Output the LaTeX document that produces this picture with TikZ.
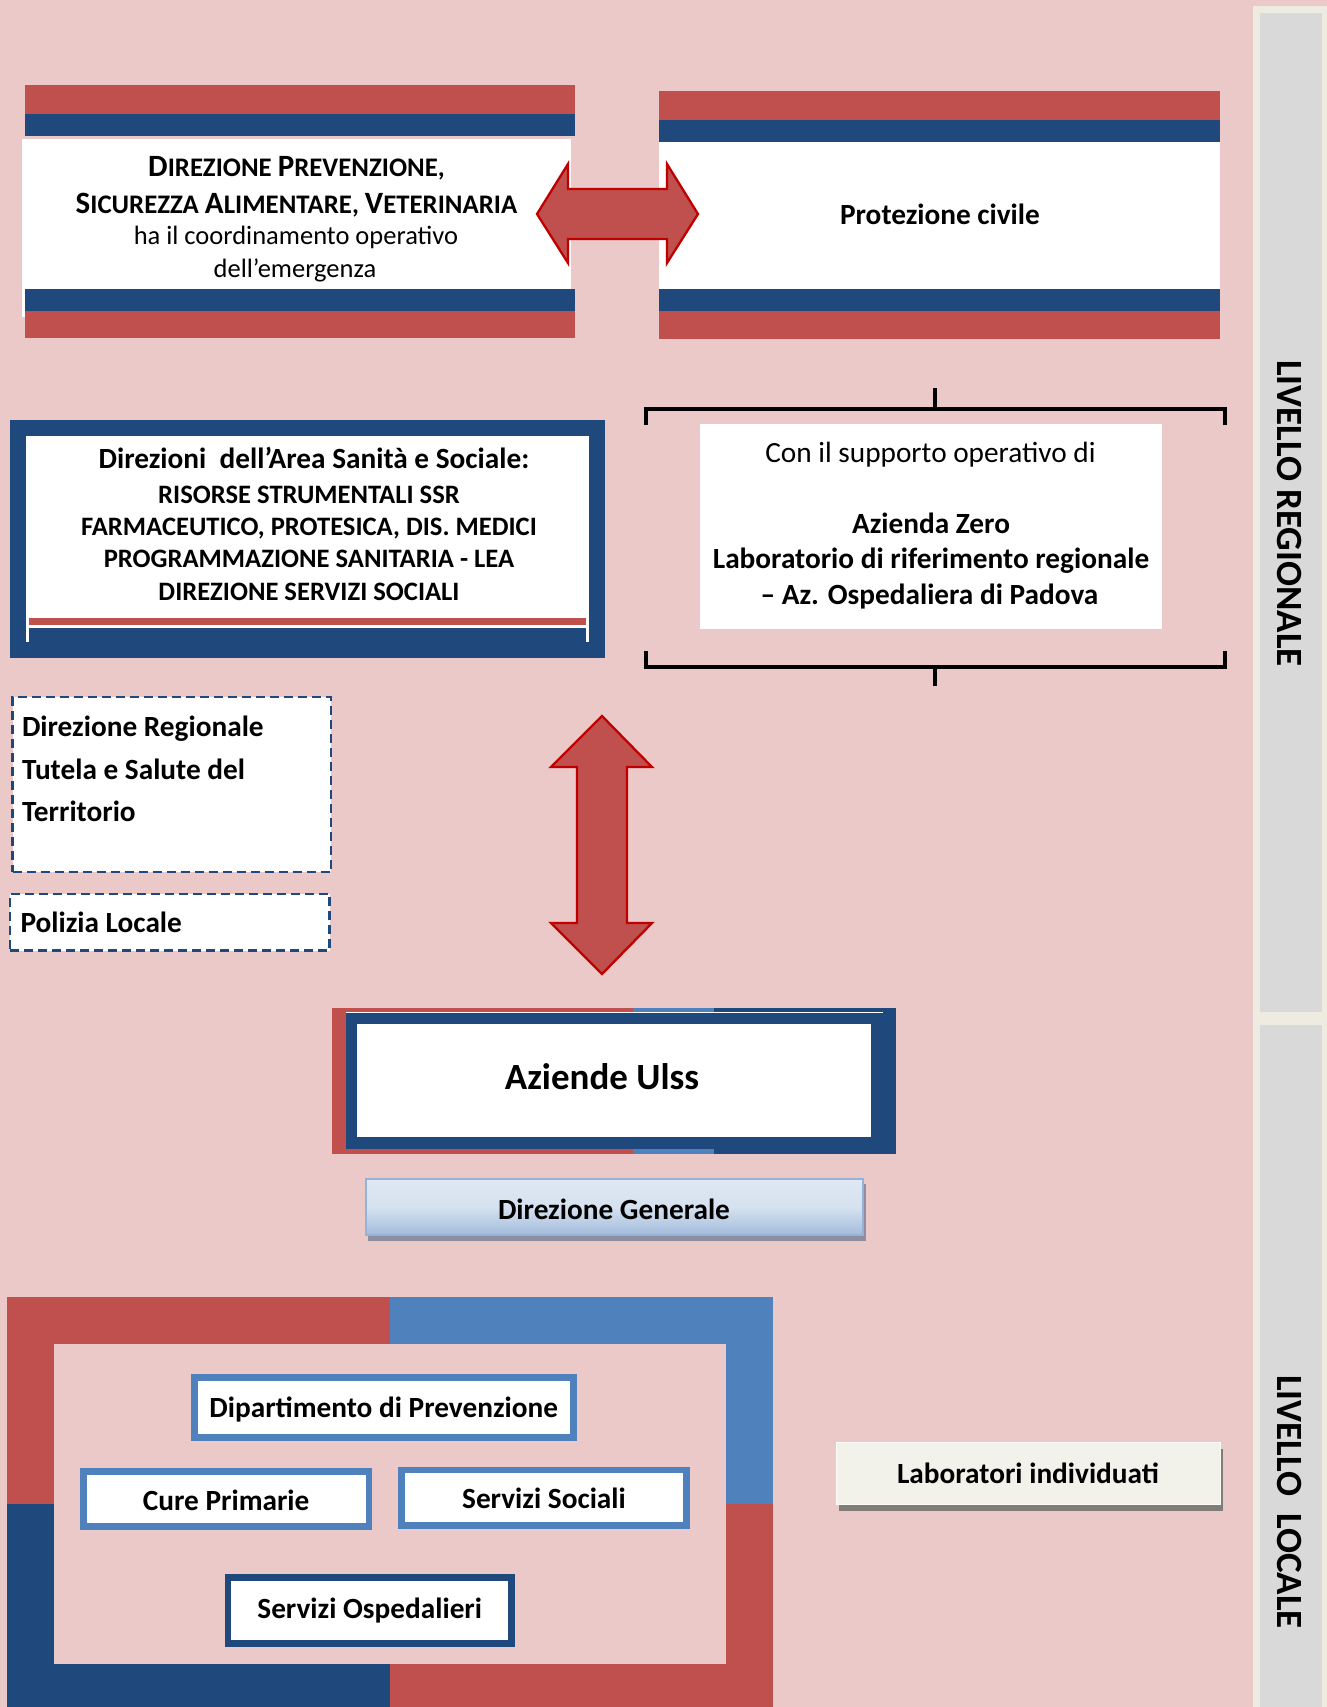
\documentclass[tikz,border=0pt]{standalone}
\usepackage{fontspec}
\setmainfont{Carlito}
\definecolor{bgpink}{HTML}{EBC9C9}
\definecolor{redc}{HTML}{C0504D}
\definecolor{dblue}{HTML}{1F497D}
\definecolor{lblue}{HTML}{4F81BD}
\definecolor{arrowred}{HTML}{C00000}
\definecolor{cream}{HTML}{EEECE1}
\definecolor{sidegray}{HTML}{D9D9D9}
\definecolor{dgtop}{HTML}{DFE8F3}
\definecolor{dgbot}{HTML}{A2BCDC}
\definecolor{dgborder}{HTML}{95B3D7}
\definecolor{dgshadow}{HTML}{8E8E9E}
\definecolor{labfill}{HTML}{F3F2EA}
\definecolor{labshadow}{HTML}{7F7D76}
\newcommand\fakesc[2]{{\fontsize{31}{31}\selectfont #1}{\fontsize{26.8}{26.8}\selectfont #2}}
\tikzset{
  every node/.style={inner sep=0pt, outer sep=0pt},
  plainbox/.style={fill=white, draw=none, anchor=north west},
  dashbox/.style={fill=white, draw=dblue, line width=2.5pt, dash pattern=on 9pt off 5pt, anchor=north west},
  framebox/.style={fill=white, draw=lblue, line width=6.7pt, text height=20pt, text depth=0pt,
    font=\fontsize{29.3}{35.8}\selectfont\bfseries},
  regtxt/.style={font=\fontsize{29.3}{35.8}\selectfont},
  boldtxt/.style={font=\fontsize{29.3}{35.8}\selectfont\bfseries},
  capstxt/.style={font=\fontsize{26.6}{32.5}\selectfont\bfseries},
  blockarrow/.style={fill=redc, draw=arrowred, line width=2.3pt, line join=miter},
  bracket/.style={draw=black, line width=4.5pt, line join=miter, line cap=butt},
  sidetxt/.style={rotate=-90, font=\fontsize{37}{37}\selectfont\bfseries}
}
\begin{document}
\begin{tikzpicture}[x=1pt,y=-1pt]
\useasboundingbox (0,0) rectangle (1327,1707);
\fill[bgpink] (0,0) rectangle (1327,1707);

% ---- side bar
\fill[cream] (1253,6.5) rectangle (1327,1707);
\fill[sidegray] (1260,13) rectangle (1322,1012);
\fill[sidegray] (1260,1025) rectangle (1322,1707);
\node[sidetxt] (lreg) at (1289.5,513.5) {LIVELLO REGIONALE};
\node[sidetxt] (lloc) at (1289.5,1502) {LIVELLO~~LOCALE};

% ---- Direzione Prevenzione box
\node[plainbox, minimum width=549pt, minimum height=178pt] (dirprev) at (22,139) {};
\fill[redc] (25,85) rectangle (575,114);
\fill[dblue] (25,114) rectangle (575,136);
\fill[dblue] (25,289) rectangle (575,310.7);
\fill[redc] (25,310.7) rectangle (575,338);
\node[anchor=base, font=\bfseries] (dp1) at (296.5,177) {\fakesc{D}{IREZIONE }\fakesc{P}{REVENZIONE,}};
\node[anchor=base, font=\bfseries] (dp2) at (296.5,213) {\fakesc{S}{ICUREZZA }\fakesc{A}{LIMENTARE, }\fakesc{V}{ETERINARIA}};
\node[anchor=base, font=\fontsize{26.5}{33}\selectfont] (dp3) at (296,244.5) {ha il coordinamento operativo};
\node[anchor=base, font=\fontsize{26.5}{33}\selectfont] (dp4) at (295,277.5) {dell’emergenza};

% ---- Protezione civile box
\node[plainbox, minimum width=561pt, minimum height=170pt] (protciv) at (659,130) {};
\fill[redc] (659,91) rectangle (1220,120);
\fill[dblue] (659,120) rectangle (1220,141.7);
\fill[dblue] (659,289) rectangle (1220,310.7);
\fill[redc] (659,310.7) rectangle (1220,338.7);
\node[anchor=base, boldtxt] (pctxt) at (940,224.5) {Protezione civile};

% ---- horizontal double block arrow
\draw[blockarrow] (537,214) -- (568,164) -- (568,189) -- (667,189) -- (667,164) -- (698,214)
  -- (667,263) -- (667,239) -- (568,239) -- (568,263) -- cycle;

% ---- Direzioni Area Sanita box
\node[anchor=north west, fill=dblue, minimum width=595pt, minimum height=238pt] (dirarea) at (10,420) {};
\fill[white] (26,436) rectangle (589,642);
\fill[redc] (29,618) rectangle (586,625);
\fill[dblue] (29,628) rectangle (586,658);
\node[anchor=base, boldtxt] (da1) at (314,468.5) {Direzioni~~dell’Area Sanità e Sociale:};
\node[anchor=base, capstxt] (da2) at (309,503) {RISORSE STRUMENTALI SSR};
\node[anchor=base, capstxt] (da3) at (309,535.5) {FARMACEUTICO, PROTESICA, DIS. MEDICI};
\node[anchor=base, capstxt] (da4) at (309,567.5) {PROGRAMMAZIONE SANITARIA - LEA};
\node[anchor=base, capstxt] (da5) at (309,600.3) {DIREZIONE SERVIZI SOCIALI};

% ---- supporto operativo with brackets
\node[plainbox, minimum width=462pt, minimum height=204.7pt] (supp) at (700,424) {};
\draw[bracket] (646,425) -- (646,409) -- (1225,409) -- (1225,425);
\draw[bracket] (935,409) -- (935,388);
\draw[bracket] (646,651) -- (646,667) -- (1225,667) -- (1225,651);
\draw[bracket] (935,667) -- (935,686);
\node[anchor=base, regtxt] (su1) at (930.5,462.7) {Con il supporto operativo di};
\node[anchor=base, boldtxt] (su2) at (931,533.2) {Azienda Zero};
\node[anchor=base, boldtxt] (su3) at (931,568.8) {Laboratorio di riferimento regionale};
\node[anchor=base, boldtxt] (su4) at (929.5,604.8) {-- Az. Ospedaliera di Padova};

% ---- dashed boxes
\node[dashbox, minimum width=318.5pt, minimum height=175pt] (dirreg) at (12.5,697) {};
\node[anchor=base west, boldtxt] (dr1) at (22,736.5) {Direzione Regionale};
\node[anchor=base west, boldtxt] (dr2) at (22,779.2) {Tutela e Salute del};
\node[anchor=base west, boldtxt] (dr3) at (22,821) {Territorio};
\node[dashbox, minimum width=319.5pt, minimum height=56.7pt] (polizia) at (10,894) {};
\node[anchor=base west, boldtxt] (pltxt) at (20.5,932.7) {Polizia Locale};

% ---- vertical double block arrow
\draw[blockarrow] (602,716) -- (652,767) -- (627,767) -- (627,923) -- (652,923) -- (602,974)
  -- (551,923) -- (577,923) -- (577,767) -- (551,767) -- cycle;

% ---- Aziende Ulss
\fill[dblue] (331.5,1007.7) rectangle (896,1154);
\fill[redc] (331.5,1007.7) rectangle (345.6,1154);
\fill[redc] (331.5,1007.7) rectangle (633,1012.3);
\fill[redc] (331.5,1148.7) rectangle (633,1154);
\fill[lblue] (633,1007.7) rectangle (714,1012.3);
\fill[lblue] (633,1148.7) rectangle (714,1154);
\draw[white, line width=1pt] (345.6,1012.3) -- (882.6,1012.3);
\node[plainbox, minimum width=514pt, minimum height=112.7pt] (ulss) at (357,1024) {};
\node[anchor=base, font=\fontsize{37}{37}\selectfont\bfseries] (ulsstxt) at (602,1089.3) {Aziende Ulss};

% ---- Direzione Generale
\fill[dgshadow] (368,1184) rectangle (866,1240.7);
\shade[top color=dgtop, bottom color=dgbot, middle color=dgtop!85!dgbot, draw=dgborder, line width=2pt]
  (366,1179) rectangle (862.7,1235);
\node[anchor=base, boldtxt] (dgtxt) at (614,1219) {Direzione Generale};

% ---- lower frame
\fill[redc] (7,1296.7) rectangle (390,1504);
\fill[lblue] (390,1296.7) rectangle (773,1504);
\fill[dblue] (7,1504) rectangle (390,1707);
\fill[redc] (390,1504) rectangle (773,1707);
\fill[bgpink] (54,1344) rectangle (726,1663.7);
\node[framebox, minimum width=378.8pt, minimum height=60pt, text height=21pt] (dipprev) at (383.75,1407.35) {Dipartimento di Prevenzione};
\node[framebox, minimum width=285.7pt, minimum height=55.3pt, text height=22pt] (cure) at (226.2,1499) {Cure Primarie};
\node[framebox, minimum width=285.3pt, minimum height=55.3pt, text height=22pt] (soc) at (544,1497.7) {Servizi Sociali};
\node[framebox, draw=dblue, minimum width=283.8pt, minimum height=66pt, text height=17pt] (osp) at (369.75,1610.35) {Servizi Ospedalieri};

% ---- Laboratori individuati
\fill[labshadow] (839,1449) rectangle (1223,1510.7);
\node[fill=labfill, draw=labfill!90!black!8!white, line width=1pt, minimum width=384pt, minimum height=61.3pt,
  text height=20pt, text depth=0pt, font=\fontsize{29.3}{35.8}\selectfont\bfseries] (lab) at (1028,1473.35) {Laboratori individuati};
\end{tikzpicture}
\end{document}
